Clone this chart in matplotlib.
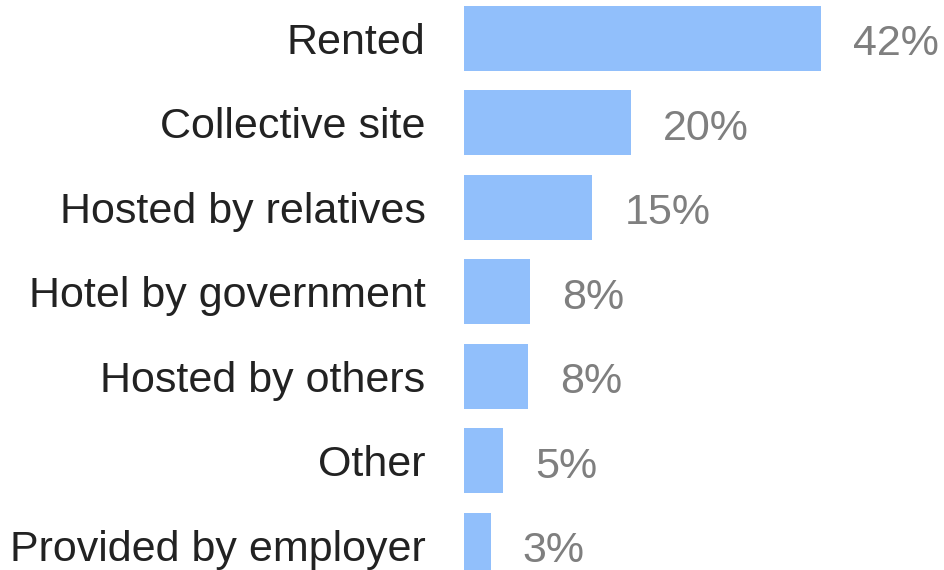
import matplotlib
matplotlib.use("Agg")
import matplotlib.pyplot as plt

categories = ["Rented", "Collective site", "Hosted by relatives", "Hotel by government",
              "Hosted by others", "Other", "Provided by employer"]
values = [42, 19.6, 15.1, 7.8, 7.5, 4.6, 3.1]
value_labels = ["42%", "20%", "15%", "8%", "8%", "5%", "3%"]

plt.rcParams['font.family'] = ['Liberation Sans', 'DejaVu Sans']

W, H, DPI = 945, 570, 100
fig = plt.figure(figsize=(W / DPI, H / DPI), dpi=DPI)
left_px = 464.3
px_per_unit = 8.486
xmax = 56
ax = fig.add_axes([left_px / W, 0, xmax * px_per_unit / W, 1])

ypos = list(range(len(categories)))
ax.barh(ypos, values, height=0.77, color="#91bffb", edgecolor="none")
ax.set_xlim(0, xmax)
ax.set_ylim(6.293, -0.456)

ax.set_yticks(ypos)
ax.set_yticklabels(categories, fontsize=31, color="#222222")
ax.tick_params(axis="y", length=0, pad=28)
ax.set_xticks([])
for s in ax.spines.values():
    s.set_visible(False)

for y, v, lab in zip(ypos, values, value_labels):
    ax.annotate(lab, xy=(v, y), xytext=(23, -1.0), textcoords="offset points",
                ha="left", va="center_baseline", fontsize=31, color="#7f7f7f",
                annotation_clip=False)

fig.savefig("out.png", dpi=DPI, facecolor="white")
